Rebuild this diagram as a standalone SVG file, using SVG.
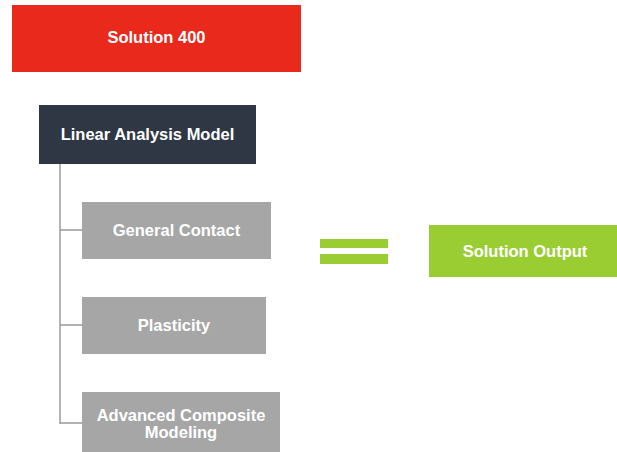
<svg xmlns="http://www.w3.org/2000/svg" width="617" height="452" viewBox="0 0 617 452">
<style>
.t{font-family:"Liberation Sans",Arial,sans-serif;font-weight:bold;font-size:16.5px;fill:#ffffff;text-anchor:middle}
.g{fill:#a6a6a6}
.c{stroke:#9a9a9a;stroke-width:1.5;fill:none}
</style>
<rect width="617" height="452" fill="#ffffff"/>
<g id="connectors">
<path class="c" d="M60 164 V424 M60 230 H82 M60 325 H82 M60 423 H82"/>
</g>
<g id="solution400">
<rect x="12" y="5" width="289" height="67" fill="#e8291c"/>
<text class="t" x="156.5" y="43">Solution 400</text>
</g>
<g id="linear">
<rect x="39" y="105" width="217" height="59" fill="#2f3744"/>
<text class="t" x="147.5" y="140">Linear Analysis Model</text>
</g>
<g id="contact">
<rect class="g" x="82" y="202" width="189" height="57"/>
<text class="t" x="176.5" y="236">General Contact</text>
</g>
<g id="plasticity">
<rect class="g" x="82" y="297" width="184" height="57"/>
<text class="t" x="174" y="331">Plasticity</text>
</g>
<g id="composite">
<rect class="g" x="82" y="392" width="198" height="62"/>
<text class="t" x="181" y="421">Advanced Composite</text>
<text class="t" x="181" y="438">Modeling</text>
</g>
<g id="equals">
<rect x="320" y="239" width="68" height="9" fill="#9acd32"/>
<rect x="320" y="254" width="68" height="10" fill="#9acd32"/>
</g>
<g id="output">
<rect x="429" y="225" width="188" height="52" fill="#9acd32"/>
<text class="t" x="525" y="257">Solution Output</text>
</g>
</svg>
